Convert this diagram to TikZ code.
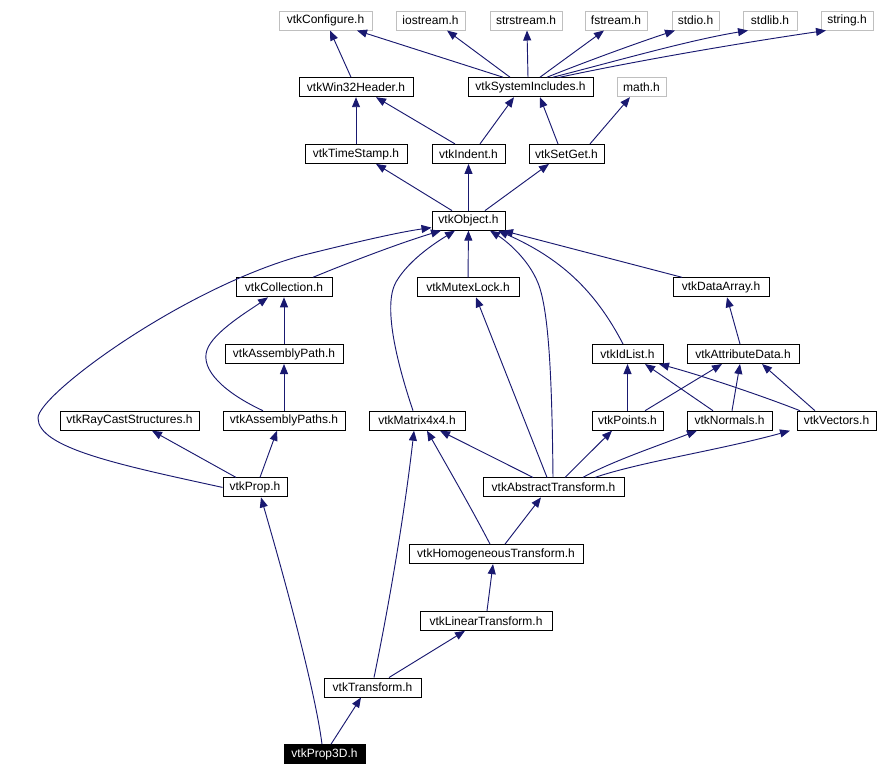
\documentclass[tikz,border=0pt]{standalone}
\usepackage{fontspec}
\setmainfont{Liberation Sans}
\usetikzlibrary{arrows.meta,calc}
\definecolor{edgec}{RGB}{25,25,112}
\definecolor{grayb}{RGB}{191,191,191}
\begin{document}
\begin{tikzpicture}[x=0.75pt,y=-0.75pt,
  box/.style={draw=black,line width=0.75pt,inner sep=0pt,minimum height=14.25pt,
    font=\fontsize{9}{10}\selectfont,fill=white},
  gbox/.style={box,draw=grayb},
  bw/.style={minimum width=#1*0.75pt},
  edge/.style={draw=edgec,line width=0.7pt,-{Triangle[length=7.5pt,width=6pt]}},
  mainbox/.style={box,fill=black,text=white}]
\useasboundingbox (0,0) rectangle (878,776);
% row 0
\node[gbox,bw=93] (conf) at (325.5,20.5) {vtkConfigure.h};
\node[gbox,bw=69] (ios) at (430.5,20.5) {iostream.h};
\node[gbox,bw=72] (strs) at (526,20.5) {strstream.h};
\node[gbox,bw=62] (fstr) at (616,20.5) {fstream.h};
\node[gbox,bw=47] (stdio) at (695.5,20.5) {stdio.h};
\node[gbox,bw=54] (stdlib) at (770,20.5) {stdlib.h};
\node[gbox,bw=52] (string) at (847,20.5) {string.h};
% row 1
\node[box,bw=114] (win32) at (356,87.2) {vtkWin32Header.h};
\node[box,bw=125] (sysinc) at (530.5,87.2) {vtkSystemIncludes.h};
\node[gbox,bw=49] (math) at (641.5,87.2) {math.h};
% row 2
\node[box,bw=102] (ts) at (356,153.9) {vtkTimeStamp.h};
\node[box,bw=73] (indent) at (468.5,153.9) {vtkIndent.h};
\node[box,bw=75] (setget) at (566.5,153.9) {vtkSetGet.h};
% row 3
\node[box,bw=73] (obj) at (468.5,220.6) {vtkObject.h};
% row 4
\node[box,bw=96] (coll) at (284,287.3) {vtkCollection.h};
\node[box,bw=102] (mutex) at (468,287.3) {vtkMutexLock.h};
\node[box,bw=96] (darr) at (721,287.3) {vtkDataArray.h};
% row 5
\node[box,bw=118] (apath) at (284,354) {vtkAssemblyPath.h};
\node[box,bw=71] (idlist) at (627.5,354) {vtkIdList.h};
\node[box,bw=112] (attr) at (743,354) {vtkAttributeData.h};
% row 6
\node[box,bw=139] (rcs) at (129.5,420.7) {vtkRayCastStructures.h};
\node[box,bw=122] (apaths) at (284,420.7) {vtkAssemblyPaths.h};
\node[box,bw=96] (mat) at (417,420.7) {vtkMatrix4x4.h};
\node[box,bw=71] (points) at (627.5,420.7) {vtkPoints.h};
\node[box,bw=85] (normals) at (729.5,420.7) {vtkNormals.h};
\node[box,bw=79] (vectors) at (836.5,420.7) {vtkVectors.h};
% row 7
\node[box,bw=64] (prop) at (255,487.4) {vtkProp.h};
\node[box,bw=141] (abs) at (553.5,487.4) {vtkAbstractTransform.h};
% rows 8-11
\node[box,bw=174] (homog) at (496,554.1) {vtkHomogeneousTransform.h};
\node[box,bw=132] (lin) at (486,620.8) {vtkLinearTransform.h};
\node[box,bw=97] (trans) at (372.5,687.5) {vtkTransform.h};
\node[mainbox,bw=81] (prop3d) at (324.5,754.2) {vtkProp3D.h};

% edges row1 -> row0
\draw[edge] ($(win32.north)+(-5,0)$) -- ($(conf.south)+(4.5,0)$);
\draw[edge] ($(sysinc.north)+(-27.5,0)$) -- ($(conf.south)+(31.5,0)$);
\draw[edge] ($(sysinc.north)+(-20.5,0)$) -- ($(ios.south)+(16.5,0)$);
\draw[edge] ($(sysinc.north)+(-2.5,0)$) -- ($(strs.south)+(1,0)$);
\draw[edge] ($(sysinc.north)+(9.5,0)$) -- ($(fstr.south)+(-12,0)$);
\draw[edge] ($(sysinc.north)+(16.5,0)$) .. controls (590,60) and (640,42) .. ($(stdio.south)+(-20.5,0)$);
\draw[edge] ($(sysinc.north)+(22.5,0)$) .. controls (620,60) and (690,40) .. ($(stdlib.south)+(-22,0)$);
\draw[edge] ($(sysinc.north)+(29.5,0)$) .. controls (650,58) and (760,40) .. ($(string.south)+(-21,0)$);
% row2 -> row1
\draw[edge] (ts) -- (win32);
\draw[edge] ($(indent.north)+(-13.5,0)$) -- ($(win32.south)+(20,0)$);
\draw[edge] ($(indent.north)+(11.5,0)$) -- ($(sysinc.south)+(-16.5,0)$);
\draw[edge] ($(setget.north)+(-8.5,0)$) -- ($(sysinc.south)+(9.5,0)$);
\draw[edge] ($(setget.north)+(23.5,0)$) -- ($(math.south)+(-11.5,0)$);
% row3 -> row2
\draw[edge] ($(obj.north)+(-16.5,0)$) -- ($(ts.south)+(20,0)$);
\draw[edge] (obj) -- (indent);
\draw[edge] ($(obj.north)+(16.5,0)$) -- ($(setget.south)+(-17.5,0)$);
% -> obj
\draw[edge] ($(coll.north)+(29,0)$) .. controls (350,262) and (400,243) .. ($(obj.south)+(-27.5,0)$);
\draw[edge] (mutex) -- (obj);
\draw[edge] ($(darr.north)+(-39,0)$) -- ($(obj.south)+(34.5,0)$);
\draw[edge] (prop.west) .. controls (120,465) and (38,448) .. (38,418)
  .. controls (38,395) and (180,290) .. (300,256)
  .. controls (360,241) and (400,232) .. ($(obj.south west)+(0,-3)$);
\draw[edge] ($(mat.north)+(-4,0)$) .. controls (396,360) and (383,305) .. (396,282)
  .. controls (410,258) and (440,240) .. ($(obj.south)+(-13.5,0)$);
\draw[edge] ($(abs.north)+(-0.5,0)$) .. controls (552,380) and (549,310) .. (538,283)
  .. controls (528,258) and (505,240) .. ($(obj.south)+(21.5,0)$);
\draw[edge] ($(idlist.north)+(-4.5,0)$) .. controls (595,290) and (560,258) .. ($(obj.south)+(29.5,0)$);
% collection side
\draw[edge] (apath) -- (coll);
\draw[edge] ($(apaths.north)+(-21,0)$) .. controls (225,393) and (200,370) .. (207,350)
  .. controls (213,332) and (250,310) .. ($(coll.south)+(-16,0)$);
\draw[edge] (apaths) -- (apath);
% attribute side
\draw[edge] ($(attr.north)+(-3,0)$) -- ($(darr.south)+(6,0)$);
\draw[edge] (points) -- (idlist);
\draw[edge] ($(points.north)+(17.5,0)$) -- ($(attr.south)+(-21,0)$);
\draw[edge] ($(normals.north)+(-16.5,0)$) -- ($(idlist.south)+(17.5,0)$);
\draw[edge] ($(normals.north)+(2.5,0)$) -- ($(attr.south)+(-3,0)$);
\draw[edge] ($(vectors.north)+(-36.5,0)$) .. controls (760,395) and (700,375) .. ($(idlist.south)+(31.5,0)$);
\draw[edge] ($(vectors.north)+(-21.5,0)$) -- ($(attr.south)+(19,0)$);
% prop
\draw[edge] ($(prop.north)+(-19,0)$) -- ($(rcs.south)+(22.5,0)$);
\draw[edge] ($(prop.north)+(5,0)$) -- ($(apaths.south)+(-7,0)$);
% abstract transform
\draw[edge] ($(abs.north)+(-20.5,0)$) -- ($(mat.south)+(23,0)$);
\draw[edge] ($(abs.north)+(-6.5,0)$) -- ($(mutex.south)+(8,0)$);
\draw[edge] ($(abs.north)+(11.5,0)$) -- ($(points.south)+(-15.5,0)$);
\draw[edge] ($(abs.north)+(29.5,0)$) .. controls (610,462) and (660,445) .. ($(normals.south)+(-32.5,0)$);
\draw[edge] ($(abs.north)+(41.5,0)$) .. controls (640,462) and (720,450) .. ($(vectors.south)+(-46.5,0)$);
% lower chain
\draw[edge] ($(homog.north)+(9,0)$) -- ($(abs.south)+(-12.5,0)$);
\draw[edge] ($(homog.north)+(-6,0)$) .. controls (475,515) and (455,480) .. ($(mat.south)+(10,0)$);
\draw[edge] ($(lin.north)+(1,0)$) -- ($(homog.south)+(-3,0)$);
\draw[edge] ($(trans.north)+(16.5,0)$) -- ($(lin.south)+(-21,0)$);
\draw[edge] ($(trans.north)+(1.5,0)$) .. controls (390,600) and (405,510) .. ($(mat.south)+(-3,0)$);
\draw[edge] ($(prop3d.north)+(6.5,0)$) -- ($(trans.south)+(-11.5,0)$);
\draw[edge] ($(prop3d.north)+(-2.5,0)$) .. controls (315,690) and (285,580) .. ($(prop.south)+(6,0)$);
\end{tikzpicture}
\end{document}
